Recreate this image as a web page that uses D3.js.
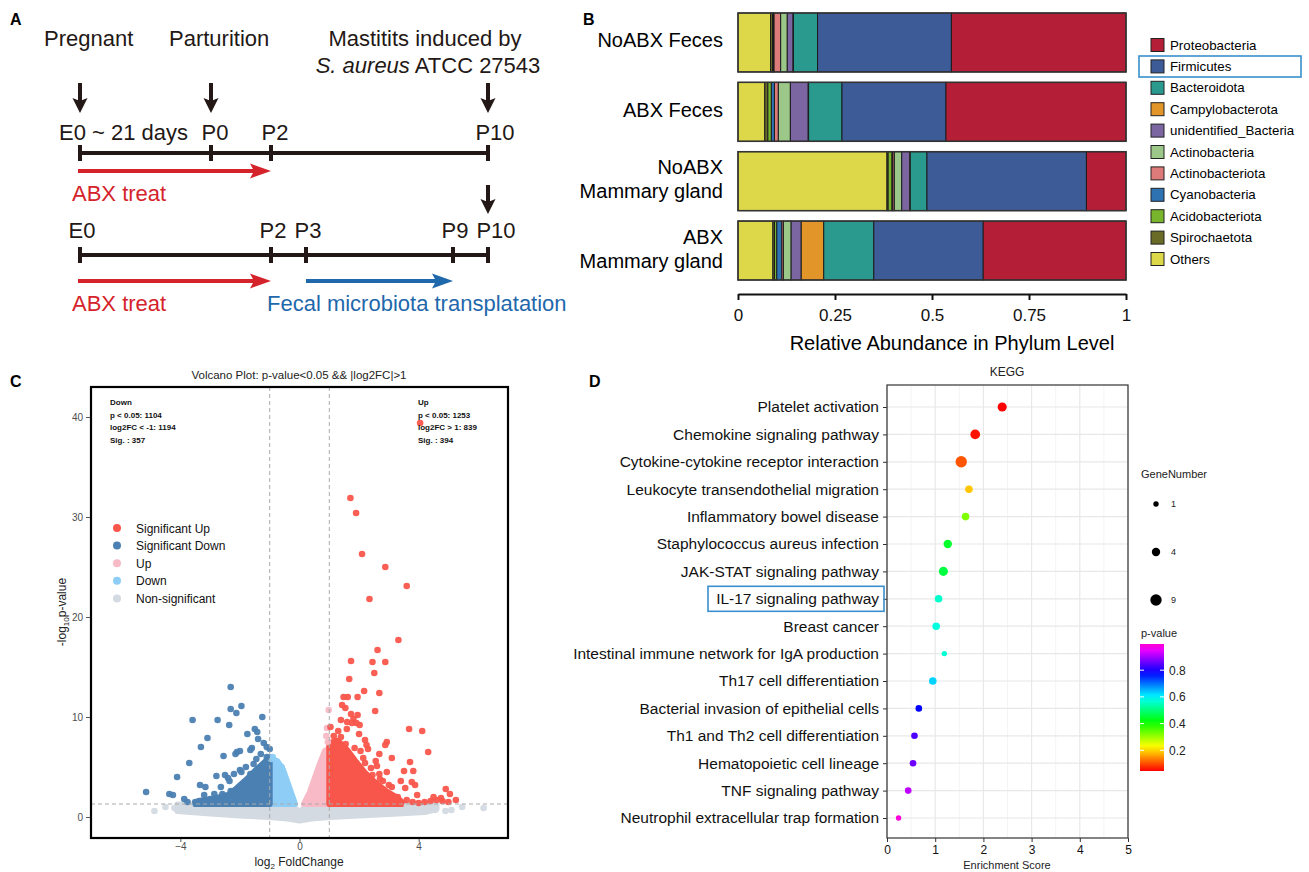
<!DOCTYPE html>
<html>
<head>
<meta charset="utf-8">
<title>Figure</title>
<script src="https://cdn.jsdelivr.net/npm/d3@7/dist/d3.min.js"></script>
<style>
  body { margin: 0; background: #fff; }
  svg { display: block; font-family: "Liberation Sans", Arial, Helvetica, sans-serif; }
</style>
</head>
<body>
<svg width="1309" height="872"></svg>
<script>
// ---------- A: timeline, days relative to parturition ----------
var eventNames = ["Pregnant", "Parturition", "Mastitits induced by"];
var eventDays = [-21, 0, 10];
var timeline1Labels = ["E0 ~ 21 days", "P0", "P2", "P10"];
var timeline1Days = [-21, 0, 2, 10];
var timeline2Labels = ["E0", "P2", "P3", "P9", "P10"];
var timeline2Days = [-21, 2, 3, 9, 10];
var abxDays = [-21, 2];
var fmtDays = [3, 9];

// ---------- B: relative abundance at phylum level ----------
var samples = ["NoABX Feces", "ABX Feces", "NoABX Mammary gland", "ABX Mammary gland"];
// stacking order, left to right
var phyla = ["Others", "Spirochaetota", "Acidobacteriota", "Cyanobacteria", "Actinobacteriota",
  "Actinobacteria", "unidentified_Bacteria", "Campylobacterota", "Bacteroidota", "Firmicutes", "Proteobacteria"];
var phylumColors = ["#DCD84A", "#6B6B28", "#78B52C", "#2E72B2", "#DC7B79",
  "#9BC789", "#7C66A1", "#E2962A", "#2A9A8F", "#3D5B97", "#B41F37"];
var noabxFeces  = [0.084, 0.005, 0.002, 0.002, 0.017, 0.017, 0.015, 0.001, 0.062, 0.345, 0.450];
var abxFeces    = [0.069, 0.008, 0.009, 0.008, 0.010, 0.031, 0.046, 0.001, 0.086, 0.268, 0.464];
var noabxMammary = [0.384, 0.003, 0.010, 0.002, 0.004, 0.019, 0.021, 0.001, 0.043, 0.411, 0.102];
var abxMammary  = [0.090, 0.004, 0.006, 0.013, 0.004, 0.020, 0.026, 0.058, 0.129, 0.282, 0.368];
var abundance = [noabxFeces, abxFeces, noabxMammary, abxMammary];
var abundanceTicks = [0, 0.25, 0.5, 0.75, 1];

// ---------- C: volcano plot (log2FC, -log10 p) ----------
var sigUpPoints = [[4.05,39.4],[1.71,31.9],[1.90,30.4],[2.10,26.3],[2.88,25.0],[3.60,23.1],[2.35,21.8],
  [3.32,17.7],[2.62,16.7],[1.73,15.6],[2.45,15.5],[2.88,15.5],[2.51,14.4],[1.67,13.8],[2.17,12.6],[2.68,12.4],
  [1.48,12.0],[1.62,12.0],[1.95,12.0],[1.43,11.2],[1.54,10.9],[2.54,10.6],[1.73,10.3],[1.39,9.7],[1.81,9.8],
  [1.91,9.4],[1.76,9.4],[2.02,9.2],[1.04,9.0],[1.59,8.8],[3.68,8.8],[4.12,8.6],[2.0,8.3],[1.39,8.0],[2.20,7.7],
  [2.93,7.5],[2.88,7.2],[4.32,6.5],[2.68,6.3],[3.10,5.9],[2.14,5.9],[2.56,5.6],[3.71,5.5],[3.51,4.6],[3.82,4.6],
  [3.40,3.6],[3.77,3.5],[3.88,3.2],[2.68,4.3],[2.93,4.5],[4.91,2.8],[5.05,2.3],[5.25,1.7],[4.75,1.9],[4.6,1.7],
  [4.4,1.6],[4.2,1.5],[4.0,1.4],[3.8,1.5],[3.6,1.7],[3.4,1.4],[3.3,2.0],[3.55,2.9],[3.0,3.2],[2.8,3.6],[2.4,4.9],
  [2.3,6.8],[1.25,7.6],[1.55,7.3],[1.85,6.9],[2.05,6.6],[2.2,5.4],[2.45,4.2],[2.7,3.8],[3.1,3.0],[1.3,8.6],
  [1.6,9.5],[1.95,10.2],[1.15,8.1],[2.25,7.2],[2.6,5.1],[3.95,2.2],[4.5,2.0],[4.8,1.6],[5.0,1.5]];
var sigDownPoints = [[-2.31,13.0],[-2.31,10.8],[-1.95,11.1],[-2.12,10.4],[-1.25,10.0],[-3.59,9.7],[-2.75,9.7],
  [-2.36,9.2],[-1.50,8.8],[-1.42,8.5],[-1.75,8.3],[-3.09,7.9],[-1.39,7.8],[-1.2,7.4],[-1.1,7.0],[-1.0,6.8],
  [-3.31,7.0],[-1.6,6.9],[-1.65,6.7],[-2.1,6.5],[-2.0,6.6],[-2.15,6.3],[-2.55,6.1],[-3.70,5.4],[-1.54,5.3],
  [-4.11,4.0],[-2.79,4.1],[-2.5,4.2],[-2.4,3.9],[-2.35,3.6],[-2.0,4.7],[-1.95,4.5],[-1.65,4.3],[-3.34,3.2],
  [-3.16,3.0],[-2.64,3.0],[-2.31,2.6],[-5.15,2.5],[-4.37,2.3],[-4.25,2.2],[-3.2,2.2],[-2.86,2.3],[-2.59,2.3],
  [-3.87,1.8],[-3.76,1.5],[-3.0,1.8],[-3.5,1.5],[-2.7,1.6],[-1.3,6.3],[-1.1,6.0],[-1.45,5.8],[-1.8,5.0],[-2.2,4.3]];
var upPoints = [[0.98,10.7],[0.92,8.9],[0.9,8.1],[0.95,7.5]];
var downPoints = [[-0.9,6.0],[-0.95,5.8],[-0.6,5.0]];
var nonSigPoints = [[-4.87,0.6],[-4.5,1.0],[-4.2,0.9],[-3.9,0.9],[-3.7,1.1],[3.6,1.1],[3.9,1.0],[4.4,0.9],
  [4.55,0.7],[4.9,0.6],[5.1,0.7],[5.46,1.0],[6.18,0.9]];
// outlines of the over-plotted dense clouds
var sigUpCloud = [[1.0,1.3],[1.0,7.4],[1.3,7.6],[1.6,6.7],[1.9,5.5],[2.2,4.4],[2.55,3.4],[2.9,2.6],[3.3,1.9],[3.5,1.3]];
var sigDownCloud = [[-1.0,1.3],[-1.0,6.0],[-1.2,5.4],[-1.5,4.6],[-1.8,3.7],[-2.1,2.9],[-2.4,2.2],[-2.9,1.8],[-3.4,1.6],[-3.5,1.3]];
var upCloud = [[0.15,1.3],[0.35,2.5],[0.55,4.2],[0.72,5.6],[0.85,6.6],[1.0,6.9],[1.0,1.3]];
var downCloud = [[-1.0,1.3],[-1.0,5.9],[-0.75,5.6],[-0.55,4.7],[-0.35,3.0],[-0.15,1.3]];
var nonSigCloud = [[-4.1,1.25],[-4.1,0.6],[-3,0.35],[-2,0.15],[-1,0.0],[-0.4,-0.15],[0,-0.35],[0.4,-0.15],
  [1,0.0],[2,0.15],[3,0.3],[4.2,0.5],[4.6,0.8],[4.6,1.25],[0.3,1.25],[0,0.5],[-0.3,1.25]];
var volcanoGroups = ["Significant Up", "Significant Down", "Up", "Down", "Non-significant"];
var volcanoColors = ["#F9564B", "#4B80B2", "#F7BAC6", "#8DCDF6", "#D3DAE1"];
var downStats = ["Down", "p < 0.05: 1104", "log2FC < -1: 1194", "Sig. : 357"];
var upStats = ["Up", "p < 0.05: 1253", "log2FC > 1: 839", "Sig. : 394"];
var volcanoXTicks = [-4, 0, 4];
var volcanoYTicks = [0, 10, 20, 30, 40];

// ---------- D: KEGG enrichment ----------
var pathways = ["Platelet activation", "Chemokine signaling pathway", "Cytokine-cytokine receptor interaction",
  "Leukocyte transendothelial migration", "Inflammatory bowel disease", "Staphylococcus aureus infection",
  "JAK-STAT signaling pathway", "IL-17 signaling pathway", "Breast cancer",
  "Intestinal immune network for IgA production", "Th17 cell differentiation",
  "Bacterial invasion of epithelial cells", "Th1 and Th2 cell differentiation",
  "Hematopoietic cell lineage", "TNF signaling pathway", "Neutrophil extracellular trap formation"];
var enrichment = [2.39, 1.83, 1.54, 1.70, 1.63, 1.26, 1.17, 1.07, 1.02, 1.19, 0.95, 0.66, 0.57, 0.54, 0.44, 0.24];
var geneNumber = [5, 6, 9, 3, 3, 4, 5, 3, 3, 1, 3, 2, 2, 2, 2, 1];
var pValue = [0.045, 0.057, 0.106, 0.189, 0.321, 0.444, 0.459, 0.560, 0.573, 0.567, 0.628, 0.781, 0.837, 0.861, 0.919, 0.99];
var sizeLegend = [1, 4, 9];
var pTicks = [0.2, 0.4, 0.6, 0.8];
var enrichTicks = [0, 1, 2, 3, 4, 5];


var svg = d3.select("svg");
var ink = "#231815";

// panel letters
[["A", 10, 25], ["B", 583, 25], ["C", 10, 387], ["D", 589, 387]].forEach(function (p) {
  svg.append("text").attr("x", p[1]).attr("y", p[2])
    .attr("font-size", 16).attr("font-weight", "bold").text(p[0]);
});

// ================= A =================
var gA = svg.append("g").attr("font-size", 22).attr("fill", ink);
var dayX = d3.scaleLinear().domain([-21, 0, 2, 3, 9, 10]).range([80, 211, 271, 306, 453, 488]);
var abxRed = "#D5232B", fmtBlue = "#1F68AC";

function downArrow(x, y1, y2) {
  gA.append("line").attr("x1", x).attr("x2", x).attr("y1", y1).attr("y2", y2 - 10)
    .attr("stroke", ink).attr("stroke-width", 4);
  gA.append("path")
    .attr("d", "M" + (x - 7.5) + "," + (y2 - 15) + "L" + x + "," + y2 + "L" + (x + 7.5) + "," + (y2 - 15) + "L" + x + "," + (y2 - 12) + "Z")
    .attr("fill", ink);
}
function rightArrow(x1, x2, y, col) {
  gA.append("line").attr("x1", x1).attr("x2", x2 - 14).attr("y1", y).attr("y2", y)
    .attr("stroke", col).attr("stroke-width", 4);
  gA.append("path")
    .attr("d", "M" + (x2 - 21) + "," + (y - 7.5) + "L" + x2 + "," + y + "L" + (x2 - 21) + "," + (y + 7.5) + "L" + (x2 - 17) + "," + y + "Z")
    .attr("fill", col);
}
function timeline(y, days) {
  gA.append("line").attr("x1", dayX(-21)).attr("x2", dayX(10)).attr("y1", y).attr("y2", y)
    .attr("stroke", ink).attr("stroke-width", 4);
  gA.selectAll(null).data(days).enter().append("line")
    .attr("x1", function (d) { return dayX(d); }).attr("x2", function (d) { return dayX(d); })
    .attr("y1", y - 8).attr("y2", y + 8)
    .attr("stroke", ink).attr("stroke-width", 4);
}

// headers
gA.append("text").attr("x", 44).attr("y", 46).text(eventNames[0]);
gA.append("text").attr("x", 169).attr("y", 46).text(eventNames[1]);
gA.append("text").attr("x", 425).attr("y", 46).attr("text-anchor", "middle").text(eventNames[2]);
var sa = gA.append("text").attr("x", 428).attr("y", 73).attr("text-anchor", "middle");
sa.append("tspan").attr("font-style", "italic").text("S. aureus");
sa.append("tspan").text(" ATCC 27543");

eventDays.forEach(function (d) { downArrow(dayX(d), 83, 113); });
downArrow(dayX(10), 185, 214);

// first timeline
timeline(153, timeline1Days);
gA.selectAll(null).data(timeline1Days).enter().append("text")
  .attr("x", function (d, i) { return i === 0 ? 59 : dayX(d) + (d === 10 ? 7 : 4); })
  .attr("y", 140)
  .attr("text-anchor", function (d, i) { return i === 0 ? "start" : "middle"; })
  .text(function (d, i) { return timeline1Labels[i]; });
rightArrow(dayX(abxDays[0]) - 2, dayX(abxDays[1]), 171, abxRed);
gA.append("text").attr("x", 72).attr("y", 201).attr("fill", abxRed).text("ABX treat");

// second timeline
timeline(255, timeline2Days);
gA.selectAll(null).data(timeline2Days).enter().append("text")
  .attr("x", function (d) { return dayX(d) + (d === 10 ? 8 : 2); })
  .attr("y", 238).attr("text-anchor", "middle")
  .text(function (d, i) { return timeline2Labels[i]; });
rightArrow(dayX(abxDays[0]) - 2, dayX(abxDays[1]), 281, abxRed);
rightArrow(dayX(fmtDays[0]), dayX(fmtDays[1]), 281, fmtBlue);
gA.append("text").attr("x", 72).attr("y", 311).attr("fill", abxRed).text("ABX treat");
gA.append("text").attr("x", 267).attr("y", 311).attr("fill", fmtBlue).text("Fecal microbiota transplatation");

// ================= B =================
var gB = svg.append("g");
var xB = d3.scaleLinear().domain([0, 1]).range([738, 1126]);
var yB = d3.scaleBand().domain(samples).range([13, 280]).paddingInner(0.15);
var colorB = d3.scaleOrdinal().domain(phyla).range(phylumColors);

var rowsB = samples.map(function (s, i) {
  var o = { sample: s };
  phyla.forEach(function (p, j) { o[p] = abundance[i][j]; });
  return o;
});
var stackB = d3.stack().keys(phyla)(rowsB);

gB.selectAll(".layer").data(stackB).enter().append("g")
    .attr("fill", function (d) { return colorB(d.key); })
  .selectAll("rect").data(function (d) { return d; }).enter().append("rect")
    .attr("x", function (d) { return xB(d[0]); })
    .attr("y", function (d) { return yB(d.data.sample); })
    .attr("width", function (d) { return Math.max(0, xB(d[1]) - xB(d[0])); })
    .attr("height", yB.bandwidth())
    .attr("stroke", "#1c1c1c").attr("stroke-width", 1);

gB.selectAll(".outline").data(samples).enter().append("rect")
  .attr("x", xB(0)).attr("y", function (d) { return yB(d); })
  .attr("width", xB(1) - xB(0)).attr("height", yB.bandwidth())
  .attr("fill", "none").attr("stroke", "#333").attr("stroke-width", 1.5);

// sample labels
gB.selectAll(".slab").data(samples).enter().append("text")
  .attr("text-anchor", "end").attr("font-size", 20)
  .each(function (d) {
    var lines = d.indexOf("Mammary") > 0 ? [d.split(" ")[0], "Mammary gland"] : [d];
    var cy = yB(d) + yB.bandwidth() / 2 - 2;
    var t = d3.select(this);
    lines.forEach(function (l, k) {
      t.append("tspan").attr("x", 723)
        .attr("y", cy + (k - (lines.length - 1) / 2) * 24 + 7).text(l);
    });
  });

var axB = gB.append("g").attr("transform", "translate(0,294)")
  .call(d3.axisBottom(xB).tickValues(abundanceTicks).tickSize(6).tickSizeOuter(0)
    .tickFormat(function (d) { return String(d); }));
axB.select(".domain").attr("stroke", "#111").attr("stroke-width", 2);
axB.selectAll(".tick line").attr("stroke", "#111").attr("stroke-width", 2);
axB.selectAll(".tick text").attr("font-size", 17).attr("fill", "#111")
  .attr("font-family", "'Liberation Sans', Arial, sans-serif").attr("dy", "1.05em");
gB.append("text").attr("x", 952).attr("y", 350).attr("text-anchor", "middle")
  .attr("font-size", 20).text("Relative Abundance in Phylum Level");

// legend (top = last stacked)
var legendPhyla = phyla.slice().reverse();
var legB = gB.selectAll(".leg").data(legendPhyla).enter().append("g")
  .attr("transform", function (d, i) { return "translate(1151," + (45 + i * 21.4) + ")"; });
legB.append("rect").attr("x", 0).attr("y", -6.5).attr("width", 13).attr("height", 13)
  .attr("fill", function (d) { return colorB(d); }).attr("stroke", "#222").attr("stroke-width", 1);
legB.append("text").attr("x", 19).attr("y", 4.5).attr("font-size", 13.3).text(function (d) { return d; });
gB.append("rect").attr("x", 1139).attr("y", 56).attr("width", 162).attr("height", 21)
  .attr("fill", "none").attr("stroke", "#3A8FCC").attr("stroke-width", 1.6);

// ================= C =================
var gC = svg.append("g");
var xC = d3.scaleLinear().domain([-7, 7]).range([91, 508]);
var yC = d3.scaleLinear().domain([-2.1, 43]).range([838, 387]);

gC.append("text").attr("x", 299).attr("y", 379).attr("text-anchor", "middle")
  .attr("font-size", 11.5).attr("fill", "#222").text("Volcano Plot: p-value<0.05 && |log2FC|>1");

gC.append("clipPath").attr("id", "clipC").append("rect")
  .attr("x", 91).attr("y", 387).attr("width", 417).attr("height", 451);
var plotC = gC.append("g").attr("clip-path", "url(#clipC)");

var cloudLine = d3.line().x(function (d) { return xC(d[0]); }).y(function (d) { return yC(d[1]); })
  .curve(d3.curveLinearClosed);
var clouds = [nonSigCloud, downCloud, upCloud, sigDownCloud, sigUpCloud];
var cloudColors = [volcanoColors[4], volcanoColors[3], volcanoColors[2], volcanoColors[1], volcanoColors[0]];
plotC.selectAll(".cloud").data(clouds).enter().append("path")
  .attr("d", cloudLine)
  .attr("fill", function (d, i) { return cloudColors[i]; })
  .attr("stroke", function (d, i) { return cloudColors[i]; })
  .attr("stroke-width", 6).attr("stroke-linejoin", "round");

var pointSets = [nonSigPoints, downPoints, upPoints, sigDownPoints, sigUpPoints];
pointSets.forEach(function (pts, i) {
  plotC.selectAll(null).data(pts).enter().append("circle")
    .attr("cx", function (d) { return xC(d[0]); })
    .attr("cy", function (d) { return yC(d[1]); })
    .attr("r", 3.3)
    .attr("fill", cloudColors[i]).attr("fill-opacity", 0.95);
});

// threshold lines
[-1, 1].forEach(function (v) {
  plotC.append("line").attr("x1", xC(v)).attr("x2", xC(v)).attr("y1", 387).attr("y2", 838)
    .attr("stroke", "#aaa").attr("stroke-dasharray", "4,3").attr("stroke-width", 1);
});
plotC.append("line").attr("x1", 91).attr("x2", 508).attr("y1", yC(-Math.log10(0.05))).attr("y2", yC(-Math.log10(0.05)))
  .attr("stroke", "#aaa").attr("stroke-dasharray", "4,3").attr("stroke-width", 1);

gC.append("rect").attr("x", 91).attr("y", 387).attr("width", 417).attr("height", 451)
  .attr("fill", "none").attr("stroke", "#000").attr("stroke-width", 2.2);

var axCy = gC.append("g").attr("transform", "translate(90,0)")
  .call(d3.axisLeft(yC).tickValues(volcanoYTicks).tickSize(4));
var axCx = gC.append("g").attr("transform", "translate(0,839)")
  .call(d3.axisBottom(xC).tickValues(volcanoXTicks).tickSize(3).tickPadding(1));
[axCy, axCx].forEach(function (a) {
  a.select(".domain").remove();
  a.selectAll(".tick line").attr("stroke", "#555");
  a.selectAll(".tick text").attr("font-size", 10).attr("fill", "#4D4D4D")
    .attr("font-family", "'Liberation Sans', Arial, sans-serif");
});

var ylab = gC.append("text").attr("transform", "translate(66,612) rotate(-90)")
  .attr("text-anchor", "middle").attr("font-size", 12).attr("fill", "#222");
ylab.append("tspan").text("-log");
ylab.append("tspan").attr("font-size", 8).attr("dy", 3).text("10");
ylab.append("tspan").attr("dy", -3).text("p-value");
var xlab = gC.append("text").attr("x", 299).attr("y", 866).attr("text-anchor", "middle")
  .attr("font-size", 12).attr("fill", "#222");
xlab.append("tspan").text("log");
xlab.append("tspan").attr("font-size", 8).attr("dy", 3).text("2");
xlab.append("tspan").attr("dy", -3).text(" FoldChange");

// stats annotations
[[downStats, 110], [upStats, 418]].forEach(function (s) {
  gC.selectAll(null).data(s[0]).enter().append("text")
    .attr("x", s[1]).attr("y", function (d, i) { return 405 + i * 12.7; })
    .attr("font-size", 8).attr("font-weight", "bold").attr("fill", "#111")
    .text(function (d) { return d; });
});

// legend
var legC = gC.selectAll(".legc").data(volcanoGroups).enter().append("g")
  .attr("transform", function (d, i) { return "translate(117," + (528 + i * 17.6) + ")"; });
legC.append("circle").attr("r", 4).attr("fill", function (d, i) { return volcanoColors[i]; });
legC.append("text").attr("x", 19).attr("y", 4.5).attr("font-size", 12).attr("fill", "#111")
  .text(function (d) { return d; });

// ================= D =================
var gD = svg.append("g");
var xD = d3.scaleLinear().domain([0, 5]).range([887, 1128]);
var yD = d3.scalePoint().domain(pathways).range([407, 818]);
var rD = d3.scaleSqrt().domain([1, 9]).range([2.7, 5.7]);
var hueD = d3.scaleLinear().domain([0.045, 0.996]).range([0, 310]).clamp(true);
function pColor(p) { return d3.hsl(hueD(p), 1, 0.5).toString(); }

gD.append("text").attr("x", 1007).attr("y", 376).attr("text-anchor", "middle")
  .attr("font-size", 12).attr("fill", "#222").text("KEGG");

// grid
d3.range(0.5, 5, 1).forEach(function (v) {
  gD.append("line").attr("x1", xD(v)).attr("x2", xD(v)).attr("y1", 385).attr("y2", 838)
    .attr("stroke", "#F4F4F4").attr("stroke-width", 1);
});
enrichTicks.forEach(function (v) {
  gD.append("line").attr("x1", xD(v)).attr("x2", xD(v)).attr("y1", 385).attr("y2", 838)
    .attr("stroke", "#E8E8E8").attr("stroke-width", 1.2);
});
pathways.forEach(function (p) {
  gD.append("line").attr("x1", 887).attr("x2", 1128).attr("y1", yD(p)).attr("y2", yD(p))
    .attr("stroke", "#E8E8E8").attr("stroke-width", 1.2);
});

gD.selectAll(".dot").data(pathways).enter().append("circle")
  .attr("cx", function (d, i) { return xD(enrichment[i]); })
  .attr("cy", function (d) { return yD(d); })
  .attr("r", function (d, i) { return rD(geneNumber[i]); })
  .attr("fill", function (d, i) { return pColor(pValue[i]); });

gD.append("rect").attr("x", 887).attr("y", 385).attr("width", 241).attr("height", 453)
  .attr("fill", "none").attr("stroke", "#333").attr("stroke-width", 1.2);

var axDy = gD.append("g").attr("transform", "translate(887,0)")
  .call(d3.axisLeft(yD).tickSize(4).tickPadding(4));
var axDx = gD.append("g").attr("transform", "translate(0,838)")
  .call(d3.axisBottom(xD).tickValues(enrichTicks).tickSize(4).tickPadding(3).tickFormat(d3.format("d")));
[axDy, axDx].forEach(function (a) {
  a.select(".domain").remove();
  a.selectAll(".tick line").attr("stroke", "#333");
  a.selectAll(".tick text").attr("fill", "#111").attr("font-family", "'Liberation Sans', Arial, sans-serif");
});
axDy.selectAll(".tick text").attr("font-size", 15.5);
axDx.selectAll(".tick text").attr("font-size", 12);
gD.append("text").attr("x", 1007).attr("y", 869).attr("text-anchor", "middle")
  .attr("font-size", 11).attr("fill", "#222").text("Enrichment Score");

// IL-17 highlight
gD.append("rect").attr("x", 708).attr("y", yD("IL-17 signaling pathway") - 12.5)
  .attr("width", 176).attr("height", 25)
  .attr("fill", "none").attr("stroke", "#3A8FCC").attr("stroke-width", 1.6);

// size legend
gD.append("text").attr("x", 1141).attr("y", 478).attr("font-size", 11).attr("fill", "#222").text("GeneNumber");
var sizeY = d3.scalePoint().domain(sizeLegend).range([504, 600]);
gD.selectAll(".sz").data(sizeLegend).enter().append("circle")
  .attr("cx", 1156).attr("cy", function (d) { return sizeY(d); })
  .attr("r", function (d) { return rD(d); }).attr("fill", "#000");
gD.selectAll(".szt").data(sizeLegend).enter().append("text")
  .attr("x", 1171).attr("y", function (d) { return sizeY(d) + 3; })
  .attr("font-size", 9).attr("fill", "#222").text(function (d) { return d; });

// colour bar
gD.append("text").attr("x", 1141).attr("y", 637).attr("font-size", 11).attr("fill", "#222").text("p-value");
var grad = svg.append("defs").append("linearGradient").attr("id", "pgrad")
  .attr("x1", 0).attr("x2", 0).attr("y1", 1).attr("y2", 0);
d3.range(0, 1.0001, 0.05).forEach(function (t) {
  grad.append("stop").attr("offset", t).attr("stop-color", pColor(0.045 + t * (0.996 - 0.045)));
});
var cbY = d3.scaleLinear().domain([0.045, 0.996]).range([771, 644]);
gD.append("rect").attr("x", 1140).attr("y", 644).attr("width", 24).attr("height", 127)
  .attr("fill", "url(#pgrad)");
pTicks.forEach(function (v) {
  gD.append("line").attr("x1", 1140).attr("x2", 1144).attr("y1", cbY(v)).attr("y2", cbY(v))
    .attr("stroke", "#fff").attr("stroke-width", 1);
  gD.append("line").attr("x1", 1160).attr("x2", 1164).attr("y1", cbY(v)).attr("y2", cbY(v))
    .attr("stroke", "#fff").attr("stroke-width", 1);
  gD.append("text").attr("x", 1169).attr("y", cbY(v) + 4.5).attr("font-size", 12).attr("fill", "#222").text(v);
});
</script>
</body>
</html>
